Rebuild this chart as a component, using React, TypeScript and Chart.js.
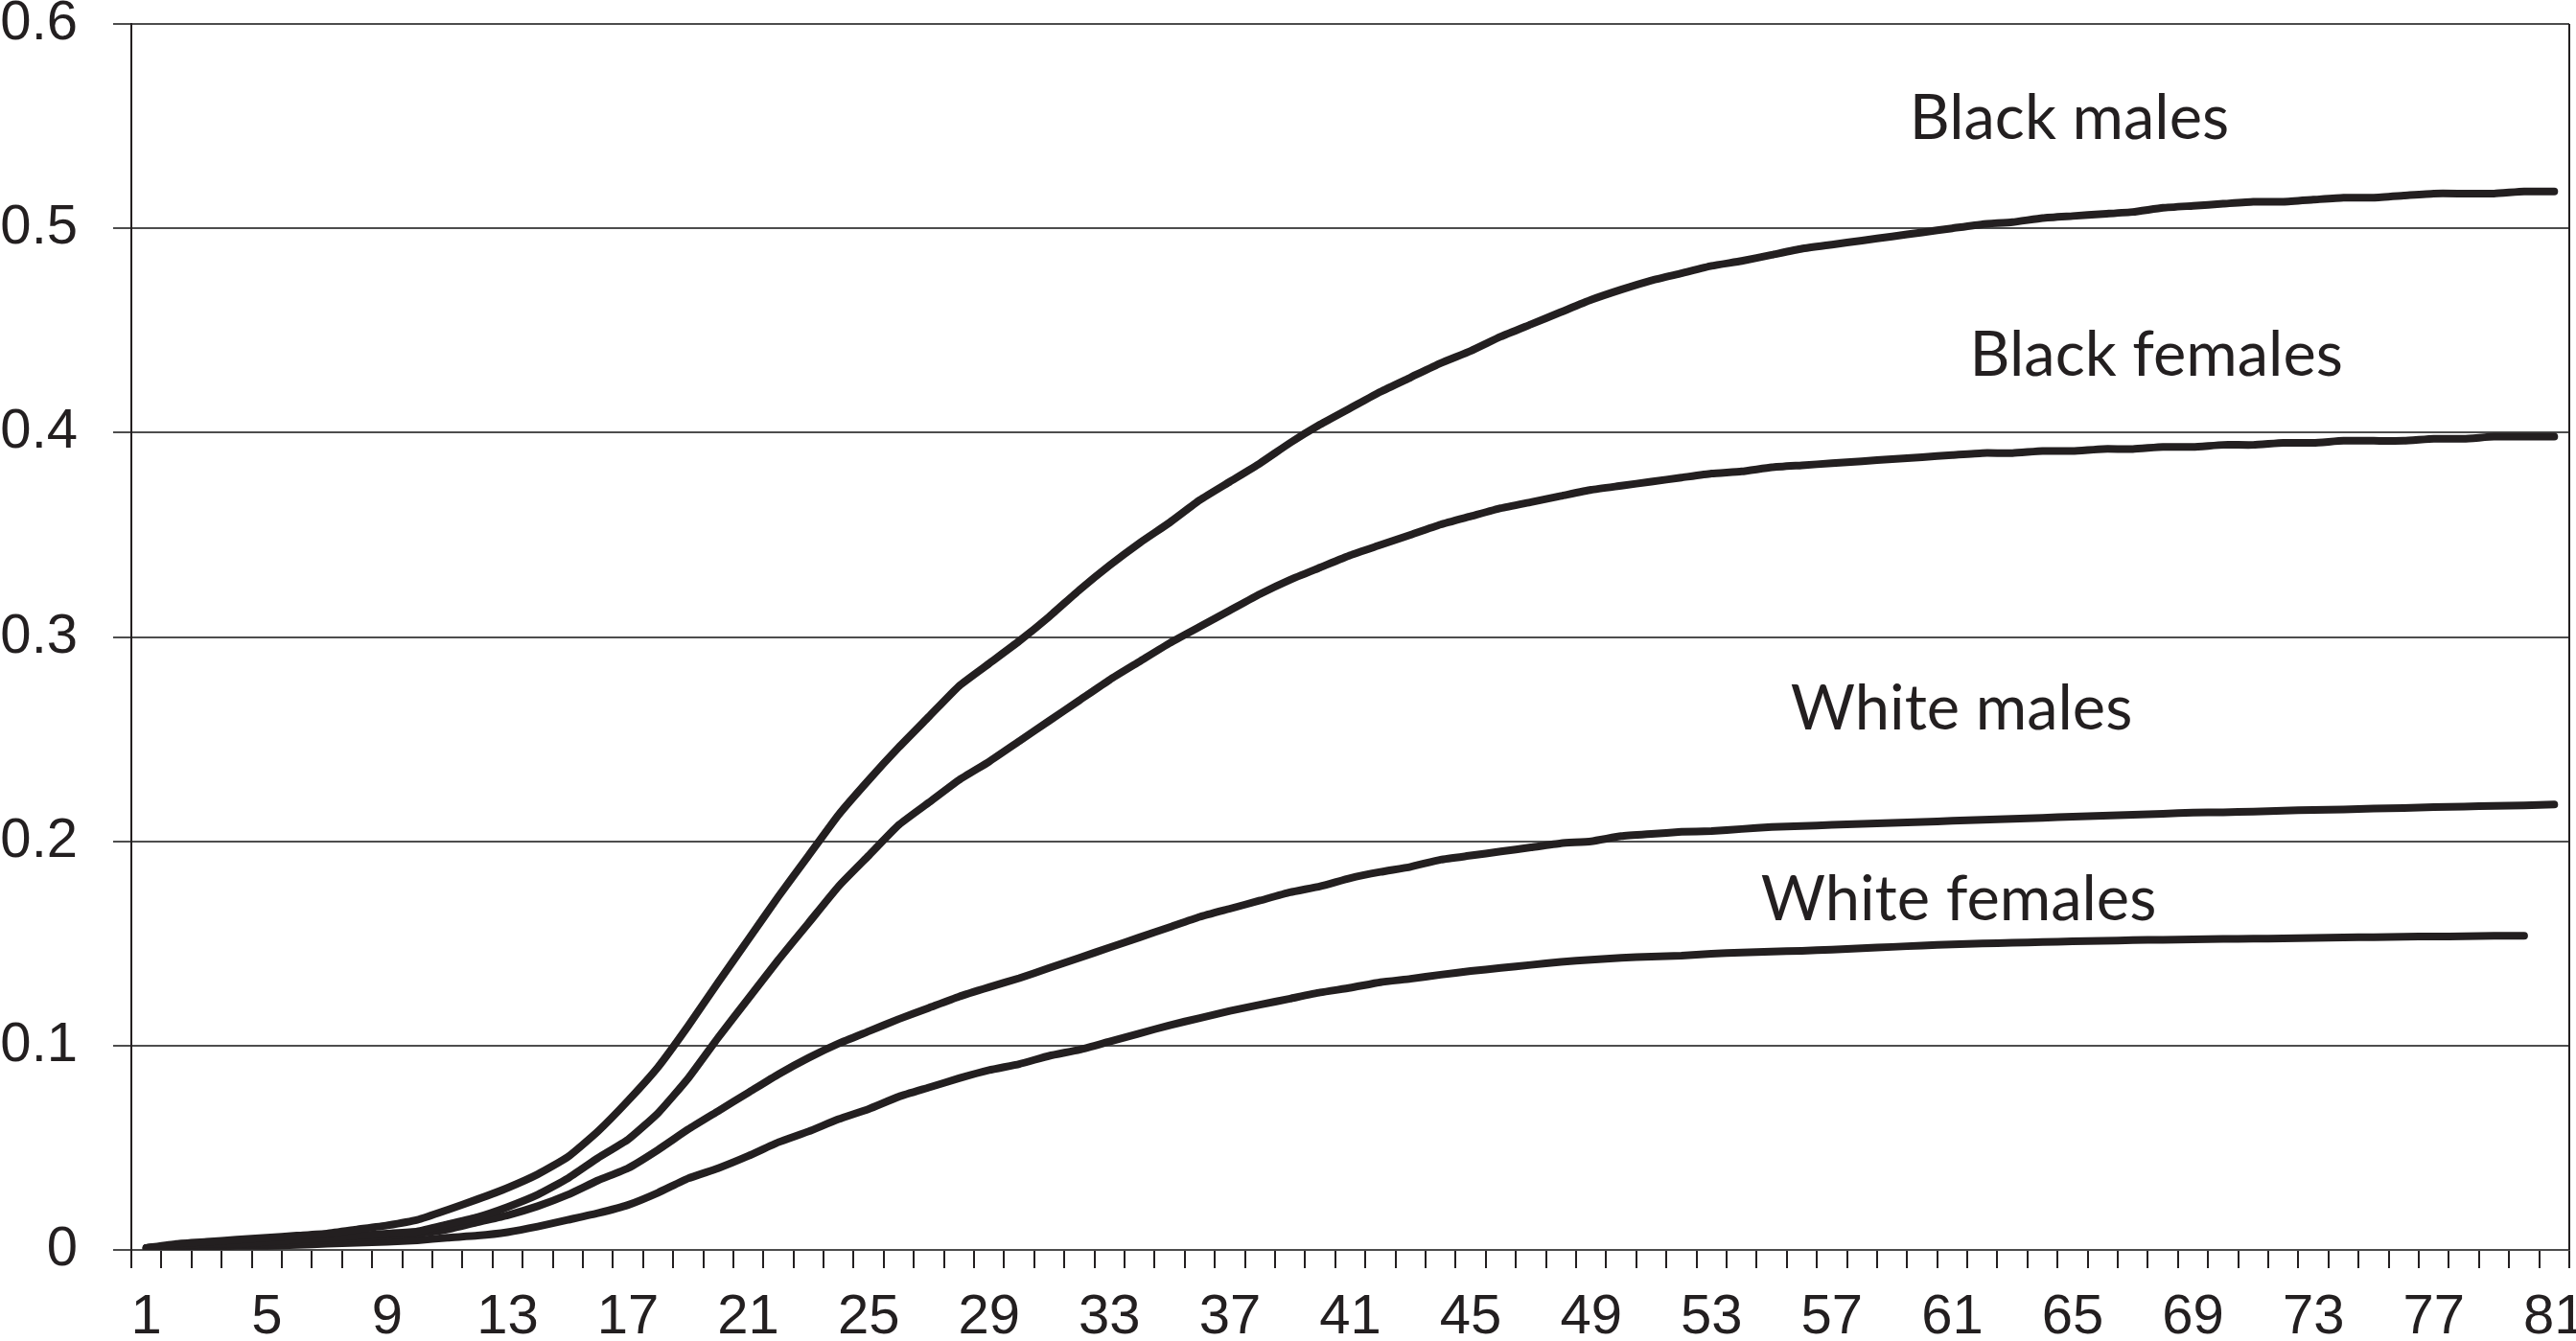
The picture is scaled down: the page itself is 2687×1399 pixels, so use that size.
import React, { useEffect, useRef } from 'react';
import { Chart, registerables } from 'chart.js';

Chart.register(...registerables);

const INK = '#231f20';
const GRID = '#4d4d4d';

// age categories on the x axis
const ages = [
  '1', '2', '3', '4', '5', '6', '7', '8', '9', '10',
  '11', '12', '13', '14', '15', '16', '17', '18', '19', '20',
  '21', '22', '23', '24', '25', '26', '27', '28', '29', '30',
  '31', '32', '33', '34', '35', '36', '37', '38', '39', '40',
  '41', '42', '43', '44', '45', '46', '47', '48', '49', '50',
  '51', '52', '53', '54', '55', '56', '57', '58', '59', '60',
  '61', '62', '63', '64', '65', '66', '67', '68', '69', '70',
  '71', '72', '73', '74', '75', '76', '77', '78', '79', '80',
  '81',
];

// labels printed under the axis
const shownTicks = ['1', '5', '9', '13', '17', '21', '25', '29', '33', '37', '41', '45', '49', '53', '57', '61', '65', '69', '73', '77', '81'];

const blackMales = [
  0.001, 0.003, 0.004, 0.005, 0.006, 0.007, 0.008, 0.010, 0.012, 0.0147,
  0.0196, 0.0248, 0.0304, 0.037, 0.0455, 0.058, 0.073, 0.0895, 0.1096, 0.131,
  0.152, 0.173, 0.193, 0.213, 0.230, 0.246, 0.261, 0.276, 0.287, 0.298,
  0.310, 0.323, 0.335, 0.346, 0.356, 0.367, 0.376, 0.385, 0.395, 0.404,
  0.412, 0.420, 0.427, 0.434, 0.440, 0.447, 0.453, 0.459, 0.465, 0.470,
  0.4745, 0.478, 0.4816, 0.484, 0.487, 0.490, 0.492, 0.494, 0.496, 0.498,
  0.500, 0.502, 0.503, 0.505, 0.506, 0.507, 0.508, 0.510, 0.511, 0.512,
  0.513, 0.513, 0.514, 0.515, 0.515, 0.516, 0.517, 0.517, 0.517, 0.518,
  0.518,
];

const blackFemales = [
  0.001, 0.002, 0.003, 0.003, 0.004, 0.005, 0.006, 0.007, 0.008, 0.009,
  0.0125, 0.016, 0.021, 0.027, 0.035, 0.045, 0.054, 0.067, 0.084, 0.104,
  0.123, 0.142, 0.160, 0.178, 0.193, 0.208, 0.219, 0.230, 0.239, 0.249,
  0.259, 0.269, 0.279, 0.288, 0.297, 0.305, 0.313, 0.321, 0.328, 0.334,
  0.340, 0.345, 0.350, 0.355, 0.359, 0.363, 0.366, 0.369, 0.372, 0.374,
  0.376, 0.378, 0.380, 0.381, 0.383, 0.384, 0.385, 0.386, 0.387, 0.388,
  0.389, 0.390, 0.390, 0.391, 0.391, 0.392, 0.392, 0.393, 0.393, 0.394,
  0.394, 0.395, 0.395, 0.396, 0.396, 0.396, 0.397, 0.397, 0.398, 0.398,
  0.398,
];

const whiteMales = [
  0.001, 0.002, 0.002, 0.003, 0.003, 0.004, 0.005, 0.006, 0.007, 0.008,
  0.010, 0.0136, 0.017, 0.0214, 0.027, 0.034, 0.040, 0.049, 0.059, 0.068,
  0.077, 0.086, 0.094, 0.101, 0.107, 0.113, 0.1185, 0.124, 0.1286, 0.133,
  0.138, 0.143, 0.148, 0.153, 0.158, 0.163, 0.167, 0.171, 0.175, 0.178,
  0.182, 0.185, 0.1875, 0.191, 0.193, 0.195, 0.197, 0.199, 0.200, 0.2025,
  0.2036, 0.2046, 0.205, 0.206, 0.207, 0.2075, 0.208, 0.2085, 0.209, 0.2095,
  0.210, 0.2105, 0.211, 0.2115, 0.212, 0.2125, 0.213, 0.2135, 0.214, 0.2142,
  0.2145, 0.215, 0.2153, 0.2156, 0.216, 0.2163, 0.2167, 0.217, 0.2173, 0.2176,
  0.218,
];

const whiteFemales = [
  0.0005, 0.001, 0.0015, 0.002, 0.002, 0.0025, 0.003, 0.0035, 0.004, 0.0047,
  0.006, 0.007, 0.0087, 0.0114, 0.0147, 0.018, 0.022, 0.028, 0.035, 0.040,
  0.046, 0.0527, 0.058, 0.064, 0.069, 0.075, 0.0795, 0.084, 0.088, 0.091,
  0.095, 0.098, 0.102, 0.106, 0.110, 0.1135, 0.117, 0.120, 0.123, 0.126,
  0.1283, 0.131, 0.1327, 0.1347, 0.1365, 0.138, 0.1395, 0.141, 0.142, 0.143,
  0.1436, 0.144, 0.145, 0.1455, 0.146, 0.1464, 0.147, 0.1477, 0.1483, 0.149,
  0.1495, 0.150, 0.1503, 0.1507, 0.151, 0.1513, 0.1516, 0.1518, 0.152, 0.1522,
  0.1523, 0.1525, 0.1527, 0.1529, 0.1531, 0.1533, 0.1534, 0.1535, 0.1537, 0.1538,
  null,
];

// in-chart series labels: text, age where the text starts, value at its baseline
const seriesNames = ['Black males', 'Black females', 'White males', 'White females'];
const nameAtAge = [59.58, 61.58, 55.63, 54.64];
const nameAtValue = [0.5436, 0.428, 0.2547, 0.1614];

const yTicks = [0, 0.1, 0.2, 0.3, 0.4, 0.5, 0.6];

const frameAndNames = {
  id: 'frameAndNames',
  afterDatasetsDraw(chart: any) {
    const { ctx, chartArea, scales } = chart;
    ctx.save();
    // right edge of the plot box
    ctx.strokeStyle = INK;
    ctx.lineWidth = 2;
    ctx.beginPath();
    ctx.moveTo(chartArea.right, chartArea.top);
    ctx.lineTo(chartArea.right, chartArea.bottom);
    ctx.stroke();

    ctx.font = '65px Lato';
    ctx.fillStyle = INK;
    ctx.textAlign = 'left';
    ctx.textBaseline = 'alphabetic';
    seriesNames.forEach((name, i) => {
      const x = scales.x.getPixelForValue(nameAtAge[i] - 1);
      const y = scales.y.getPixelForValue(nameAtValue[i]);
      ctx.fillText(name, x, y);
    });
    ctx.restore();
  },
};

export default function App() {
  const canvasRef = useRef<HTMLCanvasElement>(null);
  const chartRef = useRef<Chart | null>(null);

  useEffect(() => {
    document.body.style.margin = '0';
    document.body.style.overflow = 'hidden';
    if (!canvasRef.current) return;
    if (chartRef.current) chartRef.current.destroy();

    const line = (data: (number | null)[]) => ({
      data,
      borderColor: INK,
      borderWidth: 8,
      pointRadius: 0,
      tension: 0.15,
      borderCapStyle: 'round' as const,
      borderJoinStyle: 'round' as const,
      fill: false,
    });

    chartRef.current = new Chart(canvasRef.current, {
      type: 'line',
      data: {
        labels: ages,
        datasets: [
          { label: 'Black males', ...line(blackMales) },
          { label: 'Black females', ...line(blackFemales) },
          { label: 'White males', ...line(whiteMales) },
          { label: 'White females', ...line(whiteFemales) },
        ],
      },
      options: {
        animation: false,
        responsive: true,
        maintainAspectRatio: false,
        layout: { padding: { top: 0, left: 0, right: 7, bottom: 0 } },
        plugins: {
          legend: { display: false },
          tooltip: { enabled: false },
        },
        scales: {
          x: {
            offset: true,
            grid: {
              offset: true,
              drawOnChartArea: false,
              drawTicks: true,
              tickLength: 19,
              color: INK,
              lineWidth: 2,
            },
            border: { display: true, color: GRID, width: 2 },
            ticks: {
              autoSkip: false,
              maxRotation: 0,
              minRotation: 0,
              padding: 23,
              color: INK,
              font: { family: '"Liberation Sans", Arial, sans-serif', size: 58, lineHeight: 1 },
              callback: (_v: any, i: number) => (shownTicks.includes(ages[i]) ? ages[i] : ''),
            },
            afterFit: (scale: any) => {
              scale.paddingLeft = 0;
              scale.paddingRight = 0;
              scale.height = 101;
            },
          },
          y: {
            min: 0,
            max: 0.6,
            afterBuildTicks: (scale: any) => {
              scale.ticks = yTicks.map((v) => ({ value: v }));
            },
            grid: {
              color: GRID,
              lineWidth: 2,
              drawTicks: true,
              tickLength: 19,
            },
            border: { display: true, color: INK, width: 2 },
            ticks: {
              padding: 37,
              color: INK,
              font: { family: '"Liberation Sans", Arial, sans-serif', size: 58, lineHeight: 1 },
              callback: (v: any) => (Number(v) === 0 ? '0' : Number(v).toFixed(1)),
            },
            afterFit: (scale: any) => {
              scale.width = 137;
              scale.paddingTop = 25;
              scale.paddingBottom = 0;
            },
          },
        },
      },
      plugins: [frameAndNames],
    });

    return () => {
      if (chartRef.current) {
        chartRef.current.destroy();
        chartRef.current = null;
      }
    };
  }, []);

  return (
    <div style={{ width: 2687, height: 1405, position: 'relative', background: '#fff' }}>
      <canvas ref={canvasRef}></canvas>
    </div>
  );
}
